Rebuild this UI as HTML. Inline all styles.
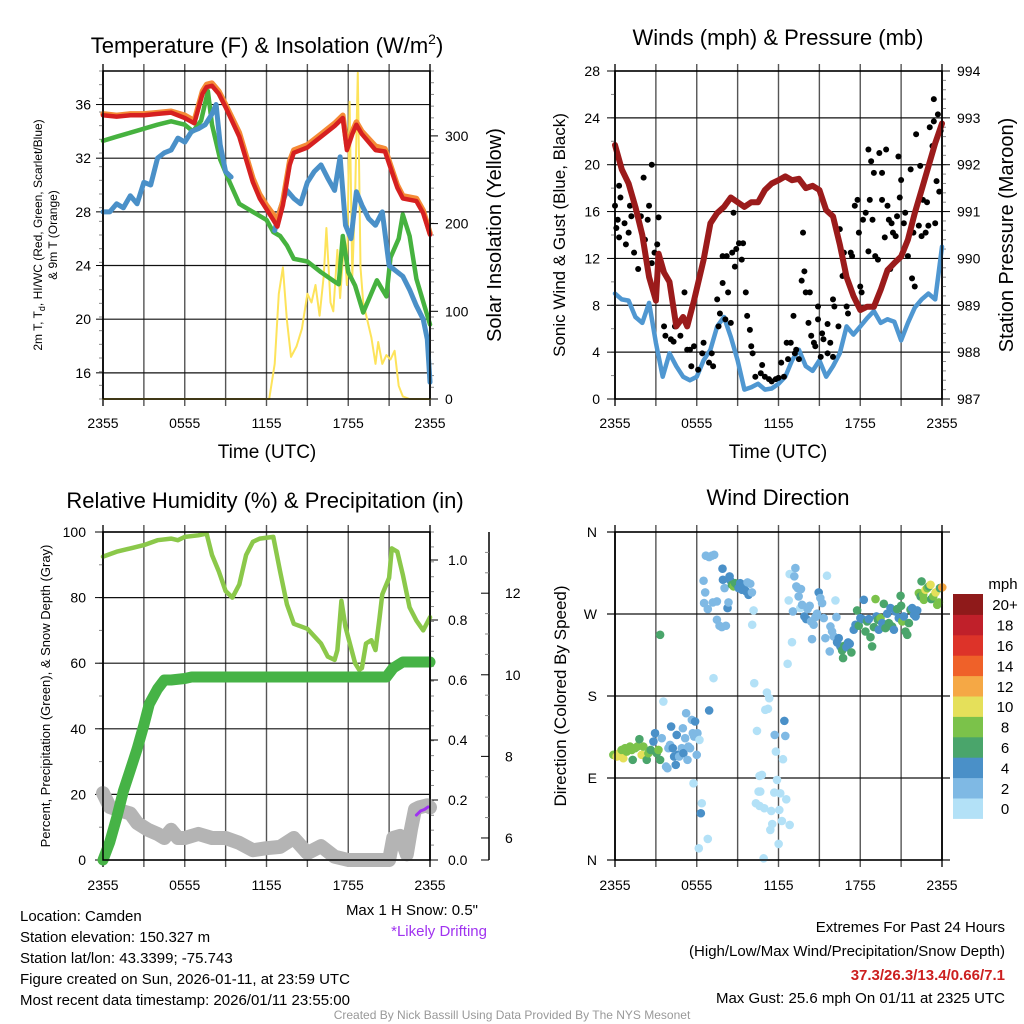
<!DOCTYPE html>
<html><head><meta charset="utf-8"><style>
html,body{margin:0;padding:0;background:#fff;}
svg{display:block;font-family:"Liberation Sans",Arial,sans-serif;}
</style></head><body>
<svg id="c" width="1024" height="1024" viewBox="0 0 1024 1024"></svg>
<script>
// ---------- DATA ----------
const timeTickLabels = ["2355","0555","1155","1755","2355"];
const tempLeftTicks = [16,20,24,28,32,36];
const solarTicks = [0,100,200,300];
const windTicks = [0,4,8,12,16,20,24,28];
const presTicks = [987,988,989,990,991,992,993,994];
const rhTicks = [0,20,40,60,80,100];
const precipTicks = [0.0,0.2,0.4,0.6,0.8,1.0];
const snowTicks = [6,8,10,12];
const dirTicks = ["N","E","S","W","N"];
const dirTickVals = [0,90,180,270,360];
const speedBinLabels = ["0","2","4","6","8","10","12","14","16","18","20+"];
const speedBinColors = ["#b3e1f7","#7fb9e4","#4a90c8","#4aa56b","#7bc24a","#e5e05a","#f5a845","#ef6129","#dd3329","#c0202a","#8f1a1a"];

const tempT = [0,1,2,3,4,5,6,6.7,7.3,7.6,8,8.5,9,10,11,11.5,12,12.5,12.8,13.2,13.7,14,15,16,17,17.6,17.9,18.3,18.6,19,20,20.7,21.2,21.6,22,23,23.5,24];
const tempRed = [35.2,35.1,35.2,35.2,35.3,35.4,35.0,34.6,36.8,37.3,37.4,36.8,35.8,33.6,30.2,29.0,28.2,27.4,26.9,28.5,31.5,32.4,32.8,33.6,34.4,35.0,32.6,33.8,34.5,33.8,32.6,32.5,31.0,29.8,29.0,28.8,27.9,26.3];
const tempOrange = [35.3,35.2,35.3,35.3,35.4,35.5,35.2,34.8,37.0,37.5,37.6,37.0,36.0,33.9,30.5,29.3,28.5,27.8,27.4,28.8,31.8,32.6,33.0,33.8,34.6,35.2,32.9,34.0,34.7,34.0,32.9,32.7,31.2,30.0,29.2,29.0,28.1,26.4];
const hiT = [0,1,2,3,4,5,6,6.6,7.2,7.7,8.0,8.6,9.3,10,11,12,12.5,13,13.5,14,15,16,17,17.3,17.6,18,18.5,19.1,20.1,20.8,21.1,21.7,22,22.5,23,24];
const hiGreen = [33.3,33.6,33.9,34.2,34.5,34.75,34.5,34.0,34.8,37.0,34.5,31.9,30.2,28.6,28.0,27.4,26.5,26.2,25.5,24.5,24.3,23.5,22.8,22.6,26.2,23.5,22.5,20.5,22.9,21.7,24.6,26.0,27.8,26.2,23.0,19.6];
const dewT = [0,0.5,1,1.5,2,2.5,3,3.5,4,4.5,5,5.5,6,6.5,7,7.5,8,8.3,8.6,9,9.4];
const dewBlue = [28.0,28.0,28.6,28.3,29.2,28.6,30.2,30.0,32.0,32.4,32.6,33.5,33.2,34.0,34.2,34.5,35.3,36.0,33.0,31.0,30.6];
const dewT2 = [12.6,13,13.5,14,14.5,15,15.5,16,16.5,17,17.4,17.8,18.2,18.6,19,19.5,20,20.5,21,21.5,22,22.5,23,23.5,23.8,24];
const dewBlue2 = [26.6,28.2,29.6,29.0,28.6,30.2,31.0,31.5,30.5,29.6,32.1,27.0,26.0,29.5,28.5,27.5,27.0,28.0,24.0,23.6,23.2,22.2,21.0,20.0,18.5,15.3];
const solarT = [0,12.2,12.6,12.9,13.2,13.5,13.8,14.2,14.6,15.0,15.3,15.6,15.9,16.2,16.4,16.7,16.9,17.2,17.4,17.7,17.9,18.1,18.3,18.5,18.7,18.9,19.1,19.4,19.7,20.0,20.2,20.5,20.8,21.1,21.4,21.7,22.0,22.5,24];
const solarVal = [0,0,40,120,150,90,48,60,80,120,110,130,95,140,195,110,100,170,115,180,130,339,140,230,372,150,110,90,70,40,65,40,50,45,55,15,3,0,0];

const presT = [0,0.5,1,1.5,2,2.5,3,3.2,3.6,4,4.5,5,5.3,5.8,6.5,7,7.5,8,8.5,9,9.5,10,10.5,11,11.5,12,12.5,13,13.5,14,14.5,15,15.5,16,16.5,17,17.5,18,18.5,19,19.5,20,20.5,21,21.5,22,22.5,23,23.5,24];
const presVal = [992.42,991.9,991.6,991.1,990.5,989.6,989.1,990.1,989.7,989.5,988.55,988.75,988.55,989.1,989.97,990.75,990.97,991.1,991.3,991.2,991.1,991.2,991.2,991.46,991.6,991.67,991.75,991.67,991.7,991.5,991.55,991.46,991.03,990.9,990.3,989.6,989.2,988.9,988.97,988.97,989.33,989.75,989.9,990.04,990.4,990.97,991.46,991.96,992.46,992.88];
const windT = [0,0.5,1,1.5,2,2.5,3,3.5,4,4.5,5,5.5,6,6.5,7,7.5,8,8.5,9,9.5,10,10.5,11,11.5,12,12.5,13,13.5,14,14.5,15,15.5,16,16.5,17,17.5,18,18.5,19,19.5,20,20.5,21,21.5,22,22.5,23,23.5,24];
const windVal = [9,8.5,8.4,7,6.5,8.2,4.8,1.9,3.9,2.8,1.9,1.6,1.9,3.3,4.2,6.2,7,5.3,3.3,0.8,1.0,1.3,0.8,0.9,1.3,1.9,3.3,4.2,2.8,2.4,3.3,1.9,2.8,3.9,6.2,5.5,6.2,6.9,7.5,6.5,6.8,6.6,5.0,6.5,7.8,8.5,9.0,8.5,13];
const gustT = [0.0,0.1,0.2,0.3,0.4,0.3,0.7,0.8,1.0,1.1,1.2,1.4,1.7,1.9,2.1,2.2,2.4,2.5,2.7,2.7,2.9,3.1,3.2,3.6,3.7,4.1,4.3,4.4,4.8,5.1,5.3,5.5,5.6,5.8,6.1,6.4,6.5,6.9,7.1,7.2,7.5,7.6,7.7,7.9,7.9,8.1,8.3,8.2,8.5,8.6,8.7,8.8,8.9,9.1,9.3,9.4,9.6,9.7,9.9,10.0,10.1,10.3,10.7,10.8,11.0,11.3,11.5,11.8,12.0,12.2,12.4,12.6,12.7,12.9,13.1,13.2,13.3,13.5,13.7,13.8,13.9,14.0,14.3,14.2,14.4,14.6,14.7,14.9,14.9,15.1,15.2,15.3,15.6,15.6,15.8,16.0,16.0,16.1,16.4,16.5,16.7,16.8,16.9,17.0,17.1,17.3,17.4,17.6,17.8,17.9,18.0,18.1,18.2,18.4,18.6,18.6,18.7,18.8,18.9,19.0,19.1,19.3,19.4,19.6,19.6,19.8,19.9,20.0,20.1,20.2,20.3,20.4,20.6,20.7,20.8,20.9,21.0,21.2,21.3,21.5,21.7,21.8,21.9,22.0,22.1,22.3,22.4,22.5,22.6,22.8,22.9,23.0,23.1,23.3,23.4,23.4,23.5,23.6,23.7,23.8,23.9];
const gustVal = [16.5,14.6,15.3,18.2,17.2,13.8,15,13.2,14.2,16.5,15.6,12.5,11.1,15.6,18.9,13.6,15.3,16.5,20,11.6,12.5,13.2,15.5,6.2,5.4,5.1,4.9,6.2,5.4,9.1,4.2,4.2,2.8,4.5,2.5,3.9,4.8,3.1,3.9,2.8,8.5,6.2,7.3,12.2,9.9,6.8,9.1,12.2,6.5,12.5,15.9,11.3,12.8,13.3,11.9,13.3,9.1,7.1,5.9,4.5,3.9,1.9,2.2,2.9,1.9,1.7,1.5,1.7,1.8,3.1,1.9,4.8,3.4,4.8,7.1,3.9,4.2,3.4,10.1,14.2,10.9,9.1,9.1,6.5,5.4,4.8,4.5,7.9,6.8,3.6,5.6,5.1,3.9,6.4,4.8,3.6,8.5,7.9,6.2,14.5,10.5,12.5,10.8,7.9,7.3,12.5,12.2,16.5,17,14.2,9.6,9.1,15.3,15.9,21.3,12.6,17,20.3,15.3,19.3,12.2,11.9,21,19.3,17,13.8,21.3,16.5,15.3,11.1,15,14.2,13.9,15.6,20.7,17.2,18.7,15,15.9,12.2,19.6,10.3,14.2,9.6,22.6,14.8,19.9,13.9,17,14.2,16.8,14.8,23.2,21.6,23.7,25.6,15,18.6,24.3,17.7,22.9];

const rhT = [0,1,2,3,4,5,5.5,6,7,7.6,8,8.5,9,9.5,10,10.5,11,11.5,12.5,13,13.5,14,15,16,16.5,17,17.2,17.5,17.8,18.5,18.8,19,19.3,19.7,20,20.3,20.5,21,21.2,21.6,22,22.5,23,23.5,24];
const rhVal = [92.5,94,95,96,97.5,98,97.5,98.5,99,99.5,93,88,82,80,84,93,97,98,98.5,88,78,72,70.5,66,62,61,64,79,71,60,58,58.5,66,67,64,74,81,86,95,94,87,77,73,70,74];
const precipT = [0,0.5,1,1.5,2,2.5,3,3.4,4,4.5,5,6,6.5,7,20.8,21.3,22,24];
const precipVal = [0,0.06,0.14,0.23,0.30,0.37,0.45,0.52,0.57,0.60,0.60,0.605,0.61,0.61,0.61,0.64,0.66,0.66];
const snowT = [0,0.5,1,2,2.5,3.3,4,4.5,5,5.5,6,7,8,9,10,11,12,13,14,15,16,17,18,21,21.3,21.8,22.3,22.6,22.9,23.2,23.8,24];
const snowVal = [7.1,6.76,6.7,6.6,6.37,6.2,6.1,6.0,6.2,6.0,6.0,6.1,6.0,6.0,5.88,5.7,5.75,5.78,6.0,5.63,5.8,5.54,5.46,5.46,6.0,6.05,5.6,6.2,6.7,6.75,6.8,6.75];
const driftT = [23.0,23.3,23.6,23.85];
const driftVal = [6.56,6.66,6.7,6.76];

const dirT = [-0.12,0.12,0.32,0.49,0.61,0.74,0.86,1.10,1.23,1.30,1.47,1.64,1.79,1.96,2.08,2.33,2.45,2.62,2.82,2.94,3.06,3.19,3.31,3.43,3.55,3.75,3.85,3.92,4.04,4.12,4.24,4.34,4.46,4.53,4.61,4.71,4.90,4.98,5.02,5.15,5.22,5.32,5.39,5.51,5.64,5.71,5.81,5.88,6.00,6.05,6.20,3.31,
 5.76,6.37,6.30,6.15,6.81,6.91,7.23,6.50,6.67,6.91,7.11,7.28,6.62,6.54,6.81,7.18,7.48,7.48,7.67,7.84,8.14,8.26,8.33,7.92,7.89,8.04,8.41,8.46,8.58,8.70,8.82,8.95,9.07,9.19,9.31,9.39,9.51,9.63,9.73,9.80,9.93,10.05,10.17,10.07,10.22,10.42,10.61,10.78,10.54,10.66,10.34,10.61,10.96,11.15,11.32,11.03,11.23,10.91,11.40,11.54,11.47,11.69,11.72,11.81,11.89,12.01,12.06,12.13,12.25,12.33,12.43,12.50,12.57,12.82,
 12.67,12.82,12.99,12.75,13.06,13.24,13.16,13.31,13.48,13.41,13.65,13.60,13.73,13.90,14.04,14.14,14.29,14.39,14.46,14.58,14.71,14.83,14.95,15.07,15.20,15.32,15.44,15.56,15.81,15.93,16.05,16.18,16.25,15.76,16.30,16.42,16.54,16.67,16.74,16.84,16.99,17.11,17.23,17.35,17.52,17.65,17.77,17.89,18.01,18.14,18.26,18.38,18.50,18.63,18.75,18.87,19.00,19.12,19.19,19.29,19.36,19.49,19.61,19.73,19.85,19.98,20.10,20.22,20.34,20.47,20.59,20.71,20.83,20.96,21.00,21.08,21.20,21.32,21.45,21.57,21.69,21.81,21.94,22.06,22.18,22.30,22.43,22.50,22.62,22.67,22.79,22.92,23.04,23.16,23.21,23.36,23.53,23.65,23.77,23.85,24.02];
const dirVal = [115.4,113.5,117.2,120.8,111.7,122.7,119,124.5,120.8,109.9,122.7,124.5,132.6,115.4,124.5,109.9,117.2,120.8,130,139.2,117.2,120.8,109.9,133.7,173.9,102.5,100.7,122.7,126.3,146.5,122.7,113.5,104.4,137.3,115.4,113.5,122.7,144.6,117.2,133.7,161.1,109.9,124.5,122.7,153.8,139.2,135.5,152,115.4,139.2,131.8,247.2,
 84.2,62.3,51.3,12.8,23.1,164.1,199.6,306.5,334,332.5,334,335,293.7,282,275.4,282.7,283.8,263.7,257.1,255.6,257.1,276.5,282.7,307.6,319.7,298.5,311.3,306.9,302.1,300.3,303.9,302.1,298.5,303.9,296.6,300.3,302.1,294.8,304.7,291.1,303.2,293.7,273.9,258.2,194.1,141.7,92.3,93.4,75.1,75.1,62.3,59.3,56.8,183.8,177.6,164.8,165.9,1.8,33,39.5,53.8,74,137.3,119,87.9,17.6,54.9,73.2,42.8,110.6,152.7,136.2,66.6,38.5,
 215.3,313.8,239.1,284.9,272.8,320.4,311.3,300.3,289.3,298.5,297.4,276.5,280.1,267.3,264.4,275.4,279,261.8,242.4,258.2,266.6,270.3,293.7,287.5,282,265.5,243.5,312,256.3,250.8,245.4,284.9,266.6,228.9,238.8,243.5,234.4,230,221.6,235.1,233.6,238.8,237.3,227.8,252.7,258.2,273.9,257.1,265.5,264.4,285.6,250.8,261.8,264.4,244.6,234.4,255.6,286.4,267.3,263.7,252.7,265.5,260,281.2,254.5,270.3,260,276.5,256.3,252.7,272.8,275.4,265.5,290,279,261.8,267.3,250.8,247.2,260,274.7,276.5,269.2,267.3,273.9,293,289.3,305.8,291.1,285.6,296.6,298.5,300.3,302.1,286.4,289.3,293.7,280.1,282.7,298.5,299.2];
const dirSpd = [9,10,10,8,10,8,9,8,8,7,8,8,6,10,8,6,8,7,4,4,6,8,6,3,1,3,2,3,3,4,4,4,4,4,4,3,3,3,4,3,3,2,3,3,3,2,3,4,2,2,1,6,
 1,1,4,1,1,4,1,2,2,2,2,2,2,2,2,2,2,2,2,3,2,4,2,4,4,2,4,4,6,8,6,6,4,4,4,4,4,4,3,4,3,3,1,1,1,1,1,1,1,1,1,1,1,1,1,1,1,1,1,1,1,1,2,1,1,1,1,1,1,1,4,2,1,1,
 1,1,1,1,2,2,2,2,2,2,2,1,2,4,4,2,2,2,2,2,2,2,4,3,2,2,2,1,2,2,3,1,3,2,4,4,4,6,6,6,4,4,4,6,4,4,6,6,4,4,4,6,7,4,6,7,6,8,4,7,4,8,4,6,6,4,6,4,6,4,4,6,4,7,6,8,4,6,6,6,6,4,4,4,4,8,7,7,8,8,10,9,7,10,6,8,10,8,8,6,12];

// ---------- DRAW ----------
const NS="http://www.w3.org/2000/svg";
const svg=document.getElementById('c');
function el(tag,attrs,parent){const e=document.createElementNS(NS,tag);for(const k in attrs)e.setAttribute(k,attrs[k]);(parent||svg).appendChild(e);return e;}
function txt(s,x,y,size,anchor,parent,extra){const t=el('text',Object.assign({x:x,y:y,'font-size':size,'text-anchor':anchor||'middle',fill:'#000'},extra||{}),parent);t.textContent=s;return t;}
function lin(a,b,c,d){return v=>c+(v-a)*(d-c)/(b-a);}

const L=103,R=430,L2=615,R2=942;
function xTop(h){return L+h*(R-L)/24;}
function xRight(h){return L2+h*(R2-L2)/24;}

function panel(x0,x1,y0,y1,name,xlabY){
  const g=el('g',{});
  
  
  el('rect',{x:x0,y:y0,width:x1-x0,height:y1-y0,fill:'#fff',stroke:'none'},g);
  for(let i=0;i<=8;i++){const x=x0+i*(x1-x0)/8;
    const v=el('line',{x1:x,x2:x,y1:y0-7,y2:y1+7,stroke:'#555','stroke-width':i%8==0?2:1.4},g);
    
    }
  for(let i=0;i<5;i++){const t=txt(timeTickLabels[i],x0+i*(x1-x0)/4,xlabY,14,'middle',g);
    
    }
  return g;
}
function hgrid(g,x0,x1,y,ext){const l=el('line',{x1:x0-(ext||0),x2:x1+(ext||0),y1:y,y2:y,stroke:'#111','stroke-width':1.2},g);
  
  }
function poly(g,xs,ys,fx,fy,color,w,name){const p=xs.map((t,i)=>fx(t).toFixed(1)+','+fy(ys[i]).toFixed(1)).join(' ');
  const e=el('polyline',{points:p,fill:'none',stroke:color,'stroke-width':w,'stroke-linejoin':'round','stroke-linecap':'round'},g);
  
  return e;}
function minorTicks(g,x,y0,y1,n,dir){for(let i=0;i<=n;i++){const y=y0+i*(y1-y0)/n;el('line',{x1:x,x2:x+dir*4,y1:y,y2:y,stroke:'#888','stroke-width':1},g);}}

// ===== Panel 1: Temperature =====
{
const T0=71,T1=399;
const g=panel(L,R,T0,T1,'temperature-panel',428);
const yT=lin(14.05,38.5,T1,T0), yS=lin(0,374,T1,T0);
minorTicks(g,L,T0,T1,24,-1);minorTicks(g,R,T0,T1,28,1);
tempLeftTicks.forEach(v=>{hgrid(g,L,R,yT(v),0);el('line',{x1:L-7,x2:L,y1:yT(v),y2:yT(v),stroke:'#000'},g);
  const t=txt(String(v),L-12,yT(v)+5,14,'end',g);});
solarTicks.forEach(v=>{el('line',{x1:R,x2:R+8,y1:yS(v),y2:yS(v),stroke:'#000'},g);
  const t=txt(String(v),R+15,yS(v)+5,14,'start',g);});
poly(g,solarT,solarVal,xTop,yS,'#fde35a',2,'solar-insolation-line');
poly(g,hiT,hiGreen,xTop,yT,'#46b23f',4.5,'heat-index-wind-chill-line');
poly(g,dewT,dewBlue,xTop,yT,'#4a90c8',5,'dewpoint-line-morning');
poly(g,dewT2,dewBlue2,xTop,yT,'#4a90c8',5,'dewpoint-line-afternoon');
poly(g,tempT,tempOrange,xTop,yT,'#f58b36',5.5,'temperature-9m-line');
poly(g,tempT,tempRed,xTop,yT,'#d62020',4.5,'temperature-2m-line');
el('rect',{x:L,y:T0,width:R-L,height:T1-T0,fill:'none',stroke:'#000','stroke-width':1.5},g);
const t1=el('text',{x:267,y:53,'font-size':22,'text-anchor':'middle'},g);t1.textContent='Temperature (F) & Insolation (W/m';
const sp=el('tspan',{'font-size':14,dy:-9},t1);sp.textContent='2';const sp2=el('tspan',{dy:9},t1);sp2.textContent=')';

const xl=txt('Time (UTC)',267,458,19,'middle',g);
const yl=el('text',{transform:'translate(42,235) rotate(-90)','font-size':12,'text-anchor':'middle'},g);
yl.textContent='2m T, T';const sub=el('tspan',{'font-size':9,dy:3},yl);sub.textContent='d';const rest=el('tspan',{dy:-3},yl);rest.textContent=', HI/WC (Red, Green, Scarlet/Blue)';

const yl2=txt('& 9m T (Orange)',0,0,12,'middle',g,{transform:'translate(57,235) rotate(-90)'});

const yr=txt('Solar Insolation (Yellow)',0,0,20,'middle',g,{transform:'translate(501,235) rotate(-90)'});

}

// ===== Panel 2: Winds =====
{
const T0=71,T1=399;
const g=panel(L2,R2,T0,T1,'winds-panel',428);
const yW=lin(0,28,T1,T0), yP=lin(987,994,T1,T0);
minorTicks(g,L2,T0,T1,14,-1);minorTicks(g,R2,T0,T1,35,1);
windTicks.forEach(v=>{hgrid(g,L2,R2,yW(v),0);el('line',{x1:L2-8,x2:L2,y1:yW(v),y2:yW(v),stroke:'#000'},g);
  const t=txt(String(v),L2-15,yW(v)+5,14,'end',g);});
presTicks.forEach(v=>{el('line',{x1:R2,x2:R2+8,y1:yP(v),y2:yP(v),stroke:'#000'},g);
  const t=txt(String(v),R2+15,yP(v)+5,14,'start',g);});
poly(g,windT,windVal,xRight,yW,'#4f97d1',4.5,'sustained-wind-line');
gustT.forEach((t,i)=>{const c=el('circle',{cx:xRight(t),cy:yW(gustVal[i]),r:3,fill:'#000'},g);
  
  });
poly(g,presT,presVal,xRight,yP,'#9b1b1b',6,'pressure-line');
el('rect',{x:L2,y:T0,width:R2-L2,height:T1-T0,fill:'none',stroke:'#000','stroke-width':1.5},g);
const t1=txt('Winds (mph) & Pressure (mb)',778,45,22,'middle',g);
const xl=txt('Time (UTC)',778,458,19,'middle',g);
const yl=txt('Sonic Wind & Gust (Blue, Black)',0,0,17,'middle',g,{transform:'translate(565,235) rotate(-90)'});

const yr=txt('Station Pressure (Maroon)',0,0,20,'middle',g,{transform:'translate(1013,235) rotate(-90)'});

}

// ===== Panel 3: RH & Precip =====
{
const T0=532,T1=860;
const g=panel(L,R,T0,T1,'humidity-panel',890);
const yH=lin(0,100,T1,T0), yPr=lin(0,1.0933,T1,T0), ySn=lin(5.46,13.5,T1,T0);
minorTicks(g,L,T0,T1,10,-1);minorTicks(g,R,T0,T1,22,1);
rhTicks.forEach(v=>{hgrid(g,L,R,yH(v),0);el('line',{x1:L-8,x2:L,y1:yH(v),y2:yH(v),stroke:'#000'},g);
  const t=txt(String(v),L-17,yH(v)+5,14,'end',g);});
precipTicks.forEach(v=>{el('line',{x1:R,x2:R+8,y1:yPr(v),y2:yPr(v),stroke:'#000'},g);
  const t=txt(v.toFixed(1),R+18,yPr(v)+5,14,'start',g);});
const sa=el('line',{x1:489,x2:489,y1:T0,y2:T1,stroke:'#000','stroke-width':1.5},g);

for(let v=6;v<=13;v+=0.5){const y=ySn(v);el('line',{x1:489,x2:489-(v%2==0?8:4),y1:y,y2:y,stroke:v%2==0?'#000':'#888'},g);}
el('line',{x1:489,x2:481,y1:T1,y2:T1,stroke:'#000'},g);
snowTicks.forEach(v=>{const t=txt(String(v),505,ySn(v)+5,14,'start',g);});
poly(g,snowT,snowVal,xTop,ySn,'#b4b4b4',14,'snow-depth-line');
poly(g,driftT,driftVal,xTop,ySn,'#a033f0',3,'drifting-snow-line');
poly(g,rhT,rhVal,xTop,yH,'#8bc84a',4.5,'relative-humidity-line');
poly(g,precipT,precipVal,xTop,yPr,'#46b346',11,'precipitation-line');
el('rect',{x:L,y:T0,width:R-L,height:T1-T0,fill:'none',stroke:'#000','stroke-width':1.5},g);
const t1=txt('Relative Humidity (%) & Precipitation (in)',265,508,22,'middle',g);
const yl=txt('Percent, Precipitation (Green), & Snow Depth (Gray)',0,0,13,'middle',g,{transform:'translate(50,696) rotate(-90)'});

}

// ===== Panel 4: Wind Direction =====
{
const T0=532,T1=860;
const g=panel(L2,R2,T0,T1,'wind-direction-panel',890);
const yD=lin(0,360,T1,T0);
dirTickVals.forEach((v,i)=>{hgrid(g,L2-8,R2+8,yD(v),0);
  const t=txt(dirTicks[i],597,yD(v)+5,14,'end',g);});
dirT.forEach((t,i)=>{const idx=Math.min(10,Math.floor((dirSpd[i]+0.5)/2));
  const c=el('circle',{cx:xRight(t),cy:yD(Math.min(360,dirVal[i])),r:4.3,fill:speedBinColors[idx]},g);
  
  });
el('rect',{x:L2,y:T0,width:R2-L2,height:T1-T0,fill:'none',stroke:'#000','stroke-width':1.5},g);
const t1=txt('Wind Direction',778,505,22,'middle',g);
const yl=txt('Direction (Colored By Speed)',0,0,17,'middle',g,{transform:'translate(566,696) rotate(-90)'});

const cb=el('g',{},svg);


const top=594,bh=20.4;
speedBinLabels.forEach((lab,i)=>{const y=top+(10-i)*bh;
  const r=el('rect',{x:953,y:y,width:30,height:bh+0.5,fill:speedBinColors[i]},cb);
  
  
  const t=txt(lab,1005,y+bh/2+6,15,'middle',cb);});
const mu=txt('mph',1003,589,15,'middle',cb);
}

// ===== Text blocks =====
const info=["Location: Camden","Station elevation: 150.327 m","Station lat/lon: 43.3399; -75.743","Figure created on Sun, 2026-01-11, at 23:59 UTC","Most recent data timestamp: 2026/01/11 23:55:00"];
info.forEach((s,i)=>{const t=txt(s,20,921+i*21,15,'start');});
{const t=txt('Max 1 H Snow: 0.5"',478,915,15,'end');
const t2=txt('*Likely Drifting',487,936,15,'end',null,{fill:'#a033f0'});
const e1=txt('Extremes For Past 24 Hours',1005,932,15,'end');
const e2=txt('(High/Low/Max Wind/Precipitation/Snow Depth)',1005,956,15,'end');
const e3=txt('37.3/26.3/13.4/0.66/7.1',1005,980,15,'end',null,{fill:'#cc1f1f','font-weight':'bold'});
const e4=txt('Max Gust: 25.6 mph On 01/11 at 2325 UTC',1005,1003,15,'end');
const f=txt('Created By Nick Bassill Using Data Provided By The NYS Mesonet',512,1019,12,'middle',null,{fill:'#999'});}
</script>
</body></html>
